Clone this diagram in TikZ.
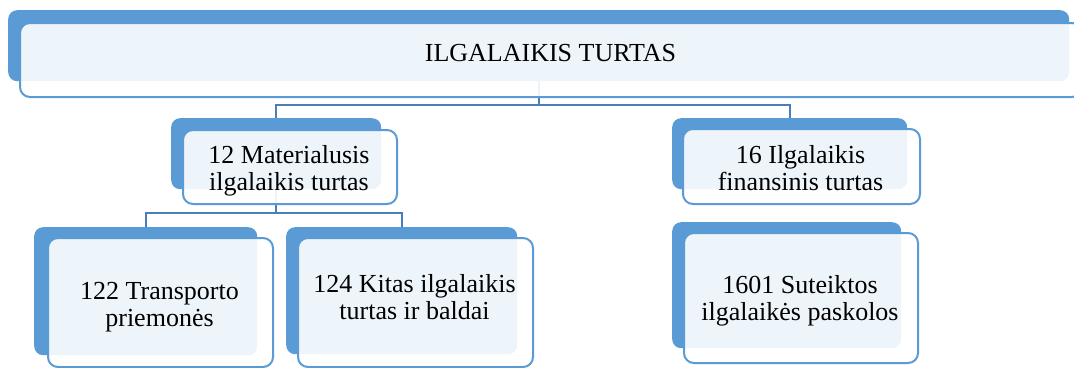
\documentclass[tikz,border=0pt]{standalone}
\usepackage{fontspec}
\setmainfont{Liberation Serif}
\usetikzlibrary{calc}
\definecolor{boxblue}{RGB}{91,155,213}
\definecolor{connblue}{RGB}{74,126,187}
\begin{document}
\begin{tikzpicture}[x=1pt,y=-1pt,
  backbox/.style={rectangle, rounded corners=9pt, fill=boxblue, draw=none, inner sep=0pt, anchor=north west},
  frontbox/.style={rectangle, rounded corners=10pt, fill=white, fill opacity=0.9, draw=boxblue, draw opacity=1, line width=2pt, inner sep=0pt, anchor=north west},
  lbl/.style={font=\fontsize{26}{27}\selectfont, align=center, inner sep=0pt, text=black},
  conn/.style={draw=connblue, line width=2pt}]
\useasboundingbox (0,0) rectangle (1074,367);
\fill[white] (0,0) rectangle (1074,367);
% back boxes
\node[backbox, minimum width=1061pt, minimum height=71pt] (tb) at (8,10) {};
\node[backbox, minimum width=210pt, minimum height=71pt] (mb) at (171,118) {};
\node[backbox, minimum width=235pt, minimum height=71pt] (fb) at (672,118) {};
\node[backbox, minimum width=223pt, minimum height=128pt] (tpb) at (34,227) {};
\node[backbox, minimum width=231pt, minimum height=127pt] (kb) at (286,227) {};
\node[backbox, minimum width=229pt, minimum height=126pt] (sb) at (672,222) {};
% connectors (behind front boxes)
\coordinate (j1) at ($(tb.south)+(0,24)$);
\coordinate (j2) at ($(mb.south)+(0,24)$);
\draw[conn] (tb.south) -- (j1) -| (mb.north);
\draw[conn] (j1) -| (fb.north);
\draw[conn] (mb.south) -- (j2) -| (tpb.north);
\draw[conn] (j2) -| (kb.north);
% front boxes
\node[frontbox, minimum width=1062pt, minimum height=74pt] (tf) at (19,22) {};
\node[frontbox, minimum width=214pt, minimum height=74pt] (mf) at (182,129) {};
\node[frontbox, minimum width=237pt, minimum height=75pt] (ff) at (682,128) {};
\node[frontbox, minimum width=225pt, minimum height=129pt] (tpf) at (47,237) {};
\node[frontbox, minimum width=235pt, minimum height=129pt] (kf) at (297,237) {};
\node[frontbox, minimum width=234pt, minimum height=130pt] (sf) at (683,232) {};
% labels
\node[lbl] (tt) at (550.5,55.6) {\strut ILGALAIKIS TURTAS\strut};
\node[lbl] (mt) at (289,171.1) {\strut 12 Materialusis\\ilgalaikis turtas\strut};
\node[lbl] (ft) at (800.5,171.1) {\strut 16 Ilgalaikis\\finansinis turtas\strut};
\node[lbl] (tpt) at (159.5,307.1) {\strut 122 Transporto\\priemonės\strut};
\node[lbl] (kt) at (414.5,300.1) {\strut 124 Kitas ilgalaikis\\turtas ir baldai\strut};
\node[lbl] (st) at (800,301.1) {\strut 1601 Suteiktos\\ilgalaikės paskolos\strut};
\end{tikzpicture}
\end{document}
